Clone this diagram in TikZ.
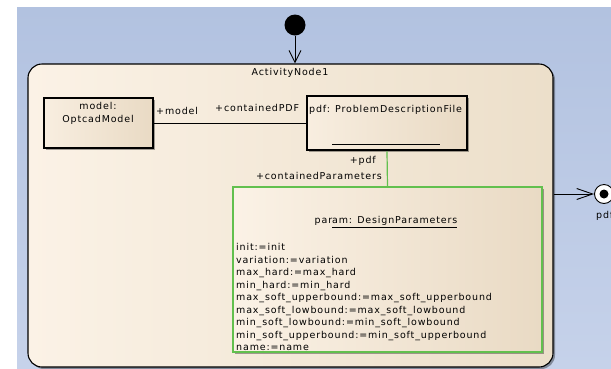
\documentclass[tikz,border=0pt]{standalone}
\usepackage{fontspec}
\newfontfamily\umlfont{DejaVu Sans}[LetterSpace=9]
\usetikzlibrary{arrows.meta,shadows}
\definecolor{bgT}{HTML}{B2C2E0}
\definecolor{bgB}{HTML}{C6D2EA}
\definecolor{actL}{HTML}{FBF2E6}
\definecolor{actR}{HTML}{ECDFCA}
\definecolor{boxL}{HTML}{F8EEE0}
\definecolor{boxR}{HTML}{E9DAC4}
\definecolor{umlgreen}{HTML}{62C04E}
\begin{document}
\begin{tikzpicture}[x=1pt,y=-1pt,
  font=\umlfont\fontsize{9.5}{12.5}\selectfont,
  lbl/.style={inner sep=0pt},
  shadowed/.style={drop shadow={shadow xshift=2pt,shadow yshift=-2pt,fill=black,opacity=0.35}},
  activity/.style={draw=black, line width=1.1pt, rounded corners=14pt, left color=actL, right color=actR, shadowed},
  objbox/.style={draw=black, line width=2.6pt, inner sep=0pt, left color=boxL, right color=boxR, shadowed},
  parambox/.style={draw=umlgreen, line width=1.4pt, inner sep=0pt, left color=actL, right color=boxR, shadowed},
  barb/.style={-{Straight Barb[length=#1,width=11pt,line width=0.9pt]}}
]
\useasboundingbox (0,0) rectangle (611,368);
\clip (0,0) rectangle (611,368);
\fill[white] (0,0) rectangle (611,368);
\shade[top color=bgT, bottom color=bgB] (17,7) rectangle (611,368);

% activity
\node[activity, minimum width=525pt, minimum height=303pt, inner sep=0pt] (act) at (290.5,215.5) {};
\node[lbl] (acttitle) at (290,73) {ActivityNode1};

% initial node
\node[circle, fill=black, minimum size=21pt, inner sep=0pt] (init) at (295,25) {};
\draw[line width=0.9pt, -{Straight Barb[length=12pt,width=12pt,line width=0.9pt]}] (init) -- (init |- act.north);

% model box
\node[objbox, minimum width=109pt, minimum height=50pt] (model) at (98.5,123) {};
\node[lbl, align=center] (modeltxt) at (98,113.5) {model:\\OptcadModel};

% pdf box
\node[objbox, minimum width=160pt, minimum height=54pt] (pdf) at (387,123) {};
\node[lbl, anchor=west] (pdftxt) at (309,110) {pdf: ProblemDescriptionFile};
\coordinate (ul1) at (332,144);
\coordinate (ul2) at (440,144);
\draw[line width=0.6pt] (ul1) -- (ul2);

% association model - pdf
\draw[line width=0.8pt] (model.east) -- (pdf.west);
\node[lbl, anchor=west] (lmodel) at (156,111) {+model};
\node[lbl, anchor=west] (lcpdf) at (215,108) {+containedPDF};

% param box
\node[parambox, minimum width=309pt, minimum height=165pt] (param) at (387.5,269.5) {};
\draw[umlgreen, line width=1.2pt] (pdf.south) -- (param.north);
\node[lbl, anchor=east] (lpdf) at (376,161) {+pdf};
\node[lbl, anchor=east] (lcpar) at (382,176) {+containedParameters};
\node[lbl] (ptitle) at (386,222) {par\underline{am: DesignParameters}};
\foreach \t [count=\i from 0] in {init:=init, variation:=variation, max\_hard:=max\_hard, min\_hard:=min\_hard, max\_soft\_upperbound:=max\_soft\_upperbound, max\_soft\_lowbound:=max\_soft\_lowbound, min\_soft\_lowbound:=min\_soft\_lowbound, min\_soft\_upperbound:=min\_soft\_upperbound, name:=name}
  \node[lbl, anchor=base west] (attr\i) at (236,{250.5+12.5*\i}) {\t};

% exit point
\node[circle, draw=black, fill=white, line width=0.9pt, minimum size=19pt, inner sep=0pt] (exit) at (604,194) {};
\node[circle, fill=black, minimum size=9pt, inner sep=0pt] (exitdot) at (exit.center) {};
\draw[line width=0.9pt, barb=16pt] (act.east |- exit) -- (exit.west);
\node[lbl, anchor=west] (exitlbl) at (596,216) {pdf};
\end{tikzpicture}
\end{document}
